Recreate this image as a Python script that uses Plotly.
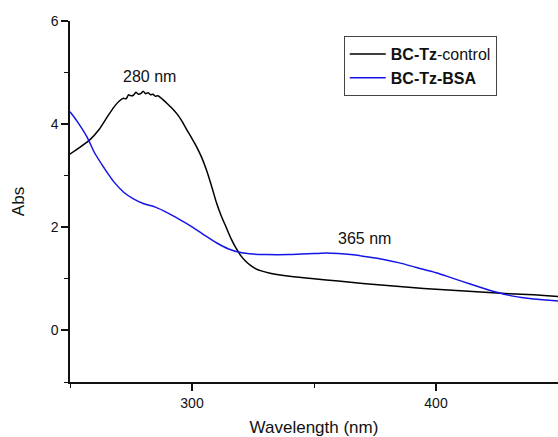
import plotly.graph_objects as go

# Data
wl_control = [250, 254, 258, 262, 265, 268, 270, 272, 273, 274, 275, 276, 277, 278, 279, 280, 281, 282,
              283, 284, 285, 286, 288, 290, 292, 294, 296, 298, 300, 302, 304, 306, 308, 310,
              312, 314, 316, 318, 320, 322, 324, 326, 328, 332, 340, 350, 360, 370, 380, 390,
              400, 410, 420, 430, 440, 450]
abs_control = [3.42, 3.55, 3.69, 3.90, 4.12, 4.33, 4.44, 4.50, 4.49, 4.57, 4.55, 4.56, 4.62, 4.58, 4.59, 4.64, 4.59, 4.61,
               4.57, 4.58, 4.54, 4.55, 4.48, 4.39, 4.30, 4.19, 4.05, 3.88, 3.72, 3.55, 3.35, 3.10, 2.80, 2.48,
               2.22, 2.00, 1.78, 1.60, 1.45, 1.34, 1.26, 1.20, 1.16, 1.11, 1.05, 1.00, 0.96, 0.91, 0.87, 0.83,
               0.80, 0.77, 0.74, 0.71, 0.69, 0.66]

wl_bsa = [250, 253, 257, 260, 264, 268, 272, 276, 280, 285, 290, 295, 300, 305, 310, 315, 320, 325,
          330, 340, 350, 355, 360, 365, 370, 377, 385, 392, 400, 407, 414, 420, 425, 430, 435, 440, 450]
abs_bsa = [4.24, 4.05, 3.75, 3.45, 3.15, 2.88, 2.68, 2.55, 2.46, 2.39, 2.28, 2.15, 2.01, 1.85, 1.70, 1.58, 1.51, 1.48,
           1.47, 1.47, 1.49, 1.50, 1.49, 1.47, 1.44, 1.39, 1.31, 1.22, 1.12, 1.01, 0.90, 0.81, 0.74, 0.68, 0.64, 0.61, 0.57]

series_names = ["<b>BC-Tz</b>-control", "<b>BC-Tz-BSA</b>"]
annotations_text = ["280 nm", "365 nm"]
annotations_pos = [(282.5, 4.93), (370.5, 1.79)]

FONT = "Arial, Liberation Sans, sans-serif"

fig = go.Figure()
fig.add_trace(go.Scatter(x=wl_control, y=abs_control, mode="lines", name=series_names[0],
                         line=dict(color="#000000", width=1.5, shape="spline", smoothing=0.4)))
fig.add_trace(go.Scatter(x=wl_bsa, y=abs_bsa, mode="lines", name=series_names[1],
                         line=dict(color="#1414e6", width=1.5, shape="spline", smoothing=0.8)))

for txt, (ax, ay) in zip(annotations_text, annotations_pos):
    fig.add_annotation(x=ax, y=ay, text=txt, showarrow=False,
                       font=dict(family=FONT, size=16, color="#111111"))

fig.update_layout(
    width=558, height=437,
    margin=dict(l=70, r=0, t=21, b=55),
    paper_bgcolor="white", plot_bgcolor="white",
    font=dict(family=FONT, color="#111111"),
    showlegend=True,
    legend=dict(x=0.561, y=0.958, xanchor="left", yanchor="top",
                bordercolor="#444444", borderwidth=1, bgcolor="white",
                font=dict(family=FONT, size=16, color="#111111"),
                tracegroupgap=0, itemwidth=36),
    xaxis=dict(range=[250, 450], tickmode="linear", tick0=0, dtick=100,
               showline=True, linecolor="#111111", linewidth=1.5,
               ticks="outside", ticklen=7, tickwidth=1.5, tickcolor="#111111",
               minor=dict(tickmode="linear", tick0=0, dtick=50, ticks="outside", ticklen=4,
                          tickwidth=1.2, tickcolor="#111111"),
               showgrid=False, zeroline=False,
               tickfont=dict(family=FONT, size=14),
               title=dict(text="Wavelength (nm)", font=dict(family=FONT, size=17), standoff=12)),
    yaxis=dict(range=[-1, 6], tickmode="linear", tick0=0, dtick=2,
               showline=True, linecolor="#111111", linewidth=1.5,
               ticks="outside", ticklen=7, tickwidth=1.5, tickcolor="#111111",
               minor=dict(tickmode="linear", tick0=1, dtick=2, ticks="outside", ticklen=4,
                          tickwidth=1.2, tickcolor="#111111"),
               showgrid=False, zeroline=False,
               tickfont=dict(family=FONT, size=14),
               title=dict(text="Abs", font=dict(family=FONT, size=17), standoff=22)),
)

fig.write_html("out.html")
